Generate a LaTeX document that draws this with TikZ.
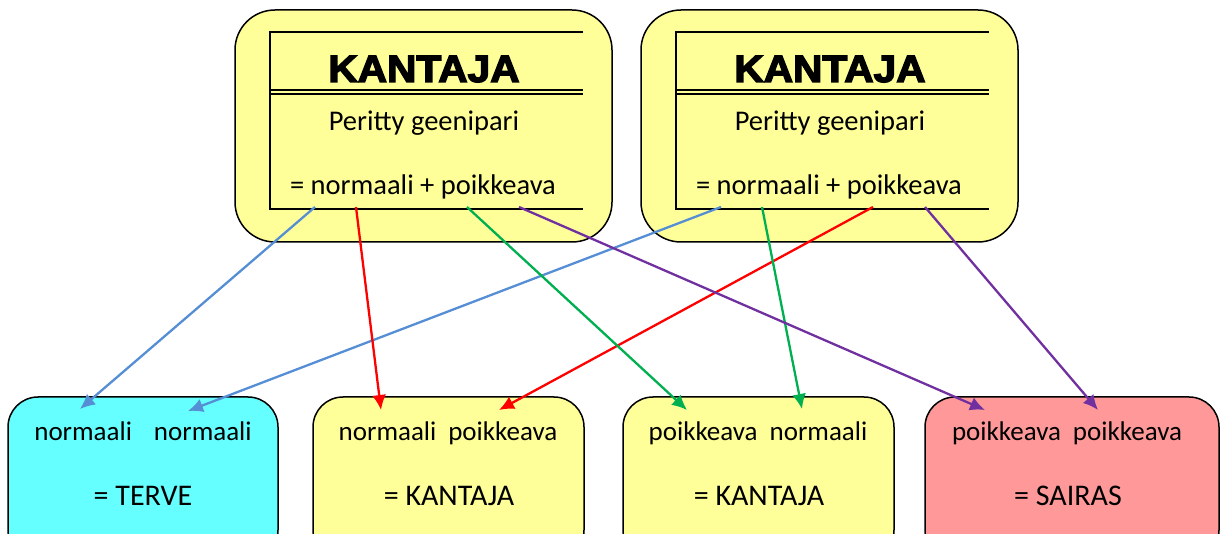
\documentclass[tikz,border=0pt]{standalone}
\usepackage{fontspec}
\setmainfont{Carlito}
\newfontfamily\blackfont{Liberation Sans}[BoldFeatures={FakeBold=3.5}]
\usetikzlibrary{arrows.meta}

\definecolor{carrier}{HTML}{FFFF99}
\definecolor{healthy}{HTML}{66FFFF}
\definecolor{sick}{HTML}{FF9999}
\definecolor{normblue}{HTML}{558ED5}
\definecolor{normgreen}{HTML}{00B050}
\definecolor{abnred}{HTML}{FF0000}
\definecolor{abnpurple}{HTML}{7030A0}

\tikzset{
  parentbox/.style={draw,line width=1.5pt,rounded corners=40pt,fill=carrier},
  childbox/.style={draw,line width=1.5pt,rounded corners=30pt},
  frame/.style={line width=1.5pt},
  title/.style={anchor=base,xscale=1.07,font=\blackfont\bfseries\fontsize{38}{42}\selectfont},
  gene text/.style={anchor=base,font=\fontsize{28.5}{34}\selectfont},
  child text/.style={anchor=base,font=\fontsize{27}{32}\selectfont},
  result text/.style={anchor=base,font=\fontsize{30}{36}\selectfont},
  gene/.style={line width=2.3pt,-{Latex[length=15pt,width=14pt]}}
}

\begin{document}
\begin{tikzpicture}[x=1pt,y=-1pt]
  \clip (0,0) rectangle (1221,534); % page size

  % the two parents, same box shifted right
  \foreach \side/\dx in {vasen/0,oikea/406}{%
    \begin{scope}[xshift=\dx pt]
      \node[parentbox,minimum width=377pt,minimum height=232pt] (\side) at (423.5,126) {};
      \draw[frame] (583,32) -- (270,32) -- (270,209) -- (583,209);
      \draw[frame] (270,90) -- (583,90);
      \draw[frame] (270,94) -- (583,94);
      \node[title] (\side-title) at (424,82) {KANTAJA};
      \node[gene text] (\side-pair) at (424,131) {Peritty geenipari};
      \node[gene text] (\side-sum) at (423,195) {= normaali + poikkeava};
      % where the gene arrows leave
      \coordinate (\side-n1) at (315,207);
      \coordinate (\side-n2) at (356,207);
      \coordinate (\side-p1) at (467,207);
      \coordinate (\side-p2) at (519,207);
    \end{scope}
  }

  % the four children
  \node[childbox,fill=healthy,minimum width=270pt,minimum height=163pt] (terve) at (143,478.5) {};
  \node[childbox,fill=carrier,minimum width=271pt,minimum height=163pt] (kantaja1) at (448.5,478.5) {};
  \node[childbox,fill=carrier,minimum width=271pt,minimum height=163pt] (kantaja2) at (758.5,478.5) {};
  \node[childbox,fill=sick,minimum width=294pt,minimum height=163pt] (sairas) at (1072,478.5) {};

  \node[child text] at (143,440) {normaali\hspace{22pt}normaali};
  \node[result text] at (143,505) {= TERVE};
  \node[child text] at (448,440) {normaali\hspace{12pt}poikkeava};
  \node[result text] at (449,505) {= KANTAJA};
  \node[child text] at (758,440) {poikkeava\hspace{12pt}normaali};
  \node[result text] at (759,505) {= KANTAJA};
  \node[child text] at (1067,440) {poikkeava\hspace{12pt}poikkeava};
  \node[result text] at (1068,505) {= SAIRAS};

  % arrow tips on the children
  \coordinate (terve-a) at (80,409);
  \coordinate (terve-b) at (188,411);
  \coordinate (kantaja1-a) at (381,410);
  \coordinate (kantaja1-b) at (499,410);
  \coordinate (kantaja2-a) at (687,410);
  \coordinate (kantaja2-b) at (802,409);
  \coordinate (sairas-a) at (985,410);
  \coordinate (sairas-b) at (1098,410);

  \draw[gene,normblue] (vasen-n1) -- (terve-a);
  \draw[gene,normblue] (oikea-n1) -- (terve-b);
  \draw[gene,abnred] (vasen-n2) -- (kantaja1-a);
  \draw[gene,abnred] (oikea-p1) -- (kantaja1-b);
  \draw[gene,normgreen] (vasen-p1) -- (kantaja2-a);
  \draw[gene,normgreen] (oikea-n2) -- (kantaja2-b);
  \draw[gene,abnpurple] (vasen-p2) -- (sairas-a);
  \draw[gene,abnpurple] (oikea-p2) -- (sairas-b);
\end{tikzpicture}
\end{document}
